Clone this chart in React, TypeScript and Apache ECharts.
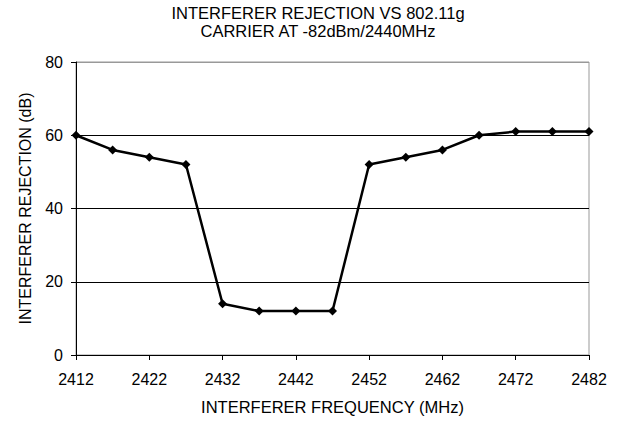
import React, { useEffect, useRef } from "react";
import * as echarts from "echarts";

const frequencies = ["2412","2417","2422","2427","2432","2437","2442","2447","2452","2457","2462","2467","2472","2477","2482"];
const rejection = [60, 56, 54, 52, 14, 12, 12, 12, 52, 54, 56, 60, 61, 61, 61];
const titleLines = ["INTERFERER REJECTION VS 802.11g", "CARRIER AT -82dBm/2440MHz"];
const xAxisName = "INTERFERER FREQUENCY (MHz)";
const yAxisName = "INTERFERER REJECTION (dB)";
const yMin = 0;
const yMax = 80;
const yStep = 20;

const FONT = "'Liberation Sans', Arial, sans-serif";

export default function App() {
  const ref = useRef<HTMLDivElement>(null);
  useEffect(() => {
    if (!ref.current) return;
    const chart = echarts.init(ref.current, null, { renderer: "svg" });
    chart.setOption({
      animation: false,
      backgroundColor: "#fff",
      textStyle: { fontFamily: FONT, color: "#000" },
      title: {
        text: titleLines.join("\n"),
        left: 318,
        textAlign: "center",
        top: 4,
        padding: 0,
        textStyle: { fontFamily: FONT, fontSize: 16.5, fontWeight: "normal", color: "#000", lineHeight: 18 },
      },
      grid: {
        left: 76,
        right: 35,
        top: 62,
        bottom: 66,
        show: true,
        borderColor: "#999",
        borderWidth: 1,
        backgroundColor: "transparent",
      },
      xAxis: {
        type: "category",
        data: frequencies,
        boundaryGap: false,
        name: xAxisName,
        nameLocation: "middle",
        nameGap: 43,
        nameTextStyle: { fontFamily: FONT, fontSize: 16.5, color: "#000" },
        axisLine: { lineStyle: { color: "#000", width: 1 } },
        axisTick: { show: true, interval: 1, length: 5, inside: false, lineStyle: { color: "#000" } },
        axisLabel: { interval: 1, fontFamily: FONT, fontSize: 16, color: "#000", margin: 16 },
        splitLine: { show: false },
      },
      yAxis: {
        type: "value",
        min: yMin,
        max: yMax,
        interval: yStep,
        name: yAxisName,
        nameLocation: "middle",
        nameGap: 43,
        nameRotate: 90,
        nameTextStyle: { fontFamily: FONT, fontSize: 16, color: "#000" },
        axisLine: { show: true, lineStyle: { color: "#000", width: 1 } },
        axisTick: { show: true, length: 5, inside: false, lineStyle: { color: "#000" } },
        axisLabel: { fontFamily: FONT, fontSize: 16, color: "#000", margin: 13 },
        splitLine: { show: true, lineStyle: { color: ["#000", "#000", "#000", "#000", "#999"], width: 1 } },
      },
      series: [
        {
          type: "line",
          data: rejection,
          symbol: "diamond",
          symbolSize: 9,
          showSymbol: true,
          itemStyle: { color: "#000" },
          lineStyle: { color: "#000", width: 2.5 },
        },
      ],
    });
    return () => chart.dispose();
  }, []);
  return <div ref={ref} style={{ position: "absolute", left: 0, top: 0, width: 624, height: 421 }} />;
}
